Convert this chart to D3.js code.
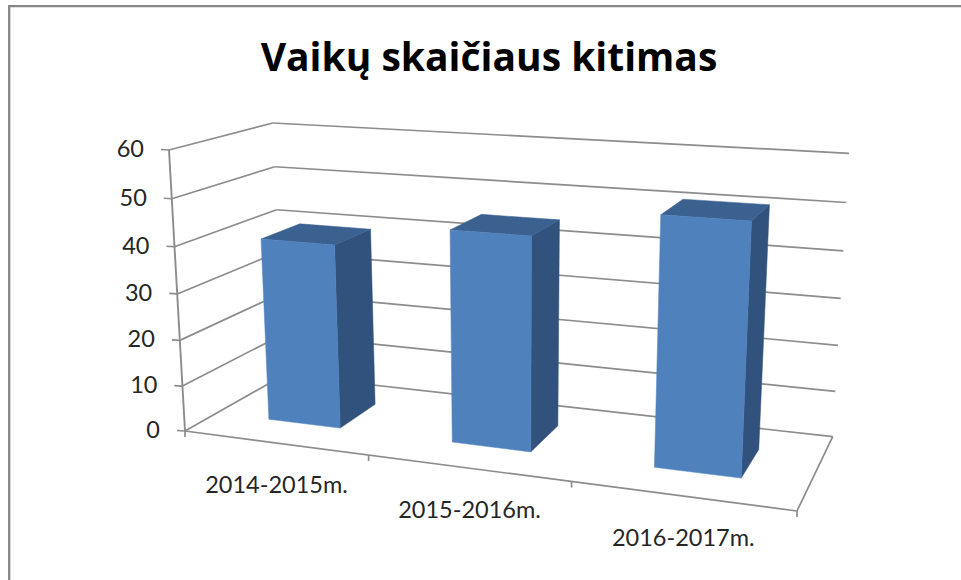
<!DOCTYPE html>
<html><head><meta charset="utf-8">
<style>html,body{margin:0;padding:0;background:#fff}svg{display:block}text{font-family:Lato,Carlito,sans-serif}</style>
<script src="https://cdn.jsdelivr.net/npm/d3@7/dist/d3.min.js"></script></head>
<body><svg width="961" height="580"></svg>
<script>
const titleText = "Vaikų skaičiaus kitimas";
const categories = ["2014-2015m.", "2015-2016m.", "2016-2017m."];
const values = [40, 45, 51];
const yTicks = [0, 10, 20, 30, 40, 50, 60];

// projected corners of the 3-D box: [front-left, front-right, back-right, back-left]
const floorQuad = [[185,431],[797,511],[832.7,436.7],[284,375]];
const topQuad   = [[169,150],[812.6,189.4],[849,153.3],[272.7,123]];
const verticalPerspective = 1.05;

function homography(q){
  const [[x0,y0],[x1,y1],[x2,y2],[x3,y3]] = q;
  const dx1=x1-x2, dx2=x3-x2, sx=x0-x1+x2-x3;
  const dy1=y1-y2, dy2=y3-y2, sy=y0-y1+y2-y3;
  const den=dx1*dy2-dx2*dy1;
  const g=(sx*dy2-dx2*sy)/den, h=(dx1*sy-sx*dy1)/den;
  const a=x1-x0+g*x1, b=x3-x0+h*x3, d=y1-y0+g*y1, e=y3-y0+h*y3;
  return (u,w)=>{const k=g*u+h*w+1;return [(a*u+b*w+x0)/k,(d*u+e*w+y0)/k];};
}
const floorH = homography(floorQuad), topH = homography(topQuad);
const yScale = d3.scaleLinear().domain([0,60]).range([0,1]);
const xBand = d3.scaleBand().domain(categories).range([0,1]).paddingInner(0.6).paddingOuter(0.3);
const depth = d3.scaleLinear().domain([0,1]).range([0.3,0.7]);
const P = (u,w,val)=>{
  const s=verticalPerspective, y=yScale(val), t=y/(s-(s-1)*y), a=floorH(u,w), b=topH(u,w);
  return [a[0]+(b[0]-a[0])*t, a[1]+(b[1]-a[1])*t];
};

const svg = d3.select("svg");
const line = d3.line();
const GRID="#8c8c8c";

svg.append("path").attr("d",line([[9.2,580],[9.2,6.2],[961,6.2]])).attr("fill","none")
  .attr("stroke","#868686").attr("stroke-width",2.3);

svg.append("text").attr("x",489).attr("y",71).attr("text-anchor","middle")
  .style("font-family","'Open Sans',sans-serif")
  .attr("font-size",39).attr("font-weight",700).attr("fill","#000").text(titleText);

const seg=(a,b,w=1.7)=>svg.append("path").attr("d",line([a,b])).attr("fill","none").attr("stroke",GRID).attr("stroke-width",w);

// gridlines on side and back walls
yTicks.forEach(v=>{
  seg(P(0,0,v),P(0,1,v));
  seg(P(0,1,v),P(1,1,v));
});
// floor + axes
seg(P(0,0,0),P(1,0,0));
seg(P(1,0,0),P(1,1,0));
seg(P(0,0,0),P(0,0,60),1.9);

// y ticks + labels
yTicks.forEach(v=>{
  const p=P(0,0,v);
  seg([p[0]-8,p[1]-0.5],p);
  svg.append("text").attr("x",p[0]-25).attr("y",p[1]+7).attr("text-anchor","end")
    .attr("font-size",23.5).attr("fill","#262626").text(v);
});
// x ticks + labels
const labelPos = d3.scaleBand().domain(categories).range([0,1]);
d3.range(0,4).forEach(i=>{
  const p=P(i/3,0,0);
  seg(p,[p[0],p[1]+6]);
});
categories.forEach(c=>{
  const p=P(labelPos(c)+labelPos.bandwidth()/2,0,0);
  svg.append("text").attr("x",p[0]+2).attr("y",p[1]+50).attr("text-anchor","middle")
    .attr("font-size",23.5).attr("fill","#262626").text(c);
});

// bars
categories.forEach((c,i)=>{
  const u0=xBand(c), u1=u0+xBand.bandwidth(), w0=depth(0), w1=depth(1), v=values[i];
  const poly=(pts,fill)=>svg.append("path").attr("d",line(pts)+"Z").attr("fill",fill).attr("stroke",fill).attr("stroke-width",0.5);
  poly([P(u1,w0,0),P(u1,w1,0),P(u1,w1,v),P(u1,w0,v)],"#31527c");
  poly([P(u0,w0,v),P(u1,w0,v),P(u1,w1,v),P(u0,w1,v)],"#3a6190");
  poly([P(u0,w0,0),P(u1,w0,0),P(u1,w0,v),P(u0,w0,v)],"#4f81bd");
});
</script></body></html>
